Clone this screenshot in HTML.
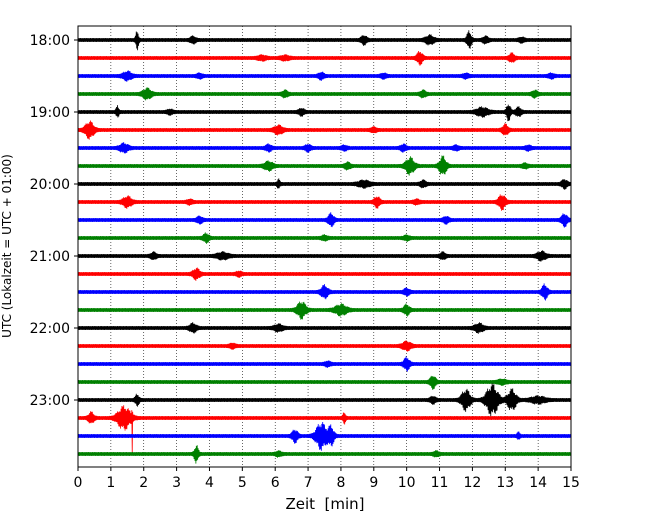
<!DOCTYPE html>
<html><head><meta charset="utf-8"><style>
body{margin:0;background:#fff}
svg text{font-family:"DejaVu Sans","Liberation Sans",sans-serif;fill:#000}
</style></head><body>
<svg id="chart" width="650" height="520" viewBox="0 0 650 520" xmlns="http://www.w3.org/2000/svg">
<g id="grid"></g>
<g id="traces"></g>
<rect x="78" y="26" width="493" height="441" fill="none" stroke="#000" stroke-width="1"/>
<g id="xt"></g>
<g id="yt"></g>
<text x="325" y="509" font-size="15" text-anchor="middle" xml:space="preserve">Zeit  [min]</text>
<text transform="translate(11,246) rotate(-90)" font-size="12" text-anchor="middle">UTC (Lokalzeit = UTC + 01:00)</text>
</svg>
<script>
const xTicks=[0,1,2,3,4,5,6,7,8,9,10,11,12,13,14,15];
const hourLabels=["18:00","19:00","20:00","21:00","22:00","23:00"];
const rowColors=["#000000","#ff0000","#0000ff","#008000"];
const baseAmp=1.9;
// events: [row, minute, amplitude(px), duration(min)]
const events=[
[0,1.8,9,0.05],[0,3.5,3,0.1],[0,8.7,4,0.1],[0,10.7,4,0.15],[0,11.9,8,0.08],[0,12.4,3,0.1],[0,13.5,2,0.1],
[1,10.4,6,0.1],[1,13.2,4,0.1],[1,5.6,2,0.15],[1,6.3,2,0.15],
[2,1.5,4,0.15],[2,3.7,2,0.1],[2,7.4,3,0.1],[2,9.3,2,0.1],[2,11.8,2,0.1],[2,14.4,2,0.1],
[3,2.1,5,0.15],[3,6.3,3,0.1],[3,10.5,3,0.1],[3,13.9,3,0.1],
[4,1.2,5,0.05],[4,2.8,2,0.1],[4,6.8,3,0.1],[4,12.3,4,0.2],[4,13.1,8,0.07],[4,13.4,4,0.1],
[5,0.35,8,0.15],[5,6.1,4,0.15],[5,9.0,2,0.1],[5,13.0,5,0.1],
[6,1.4,4,0.15],[6,5.8,3,0.1],[6,7.0,3,0.1],[6,8.1,2,0.1],[6,9.9,3,0.1],[6,11.5,2,0.1],[6,13.7,2,0.1],
[7,5.8,4,0.15],[7,8.2,3,0.1],[7,10.1,8,0.15],[7,11.1,9,0.12],[7,13.6,2,0.1],
[8,6.1,4,0.05],[8,8.7,3,0.2],[8,10.5,3,0.1],[8,14.8,4,0.1],
[9,1.5,5,0.15],[9,3.4,2,0.1],[9,9.1,5,0.1],[9,10.3,2,0.1],[9,12.9,7,0.12],
[10,3.7,3,0.1],[10,7.7,6,0.1],[10,11.2,3,0.1],[10,14.8,6,0.1],
[11,3.9,4,0.1],[11,7.5,2,0.1],[11,10.0,2,0.1],
[12,2.3,3,0.1],[12,4.4,3,0.2],[12,11.1,3,0.1],[12,14.1,4,0.15],
[13,3.6,5,0.12],[13,4.9,2,0.1],
[14,7.5,6,0.12],[14,10.0,3,0.1],[14,14.2,7,0.1],
[15,6.8,8,0.15],[15,8.0,5,0.2],[15,10.0,5,0.1],
[16,3.5,4,0.12],[16,6.1,3,0.15],[16,12.2,4,0.15],
[17,10.0,4,0.15],[17,4.7,2,0.1],
[18,10.0,6,0.1],[18,7.6,2,0.1],
[19,10.8,6,0.1],[19,12.9,2,0.15],
[20,1.8,5,0.07],[20,10.8,3,0.1],[20,11.8,10,0.15],[20,12.6,15,0.2],[20,13.2,10,0.15],[20,14.0,3,0.25],
[21,0.4,5,0.1],[21,1.4,11,0.22],[21,1.65,34,0.01],[21,8.1,5,0.05],
[22,6.6,6,0.1],[22,7.4,13,0.18],[22,7.7,9,0.1],[22,13.4,3,0.05],
[23,3.6,8,0.07],[23,6.1,2,0.1],[23,10.9,2,0.1]
];
const NS="http://www.w3.org/2000/svg";
const X0=78,X1=571,Y0=26,Y1=467;
const xs=m=>X0+(X1-X0)*m/15;
const rowY=r=>40+18*r;
const grid=document.getElementById('grid');
xTicks.forEach(t=>{
  if(t>0&&t<15){const l=document.createElementNS(NS,'line');
  
  
  l.setAttribute('x1',xs(t));l.setAttribute('x2',xs(t));l.setAttribute('y1',Y0);l.setAttribute('y2',Y1);
  l.setAttribute('stroke','#000');l.setAttribute('stroke-width','0.6');l.setAttribute('stroke-dasharray','1,2');grid.appendChild(l);}
});
const xt=document.getElementById('xt');
xTicks.forEach(t=>{
  const l=document.createElementNS(NS,'line');
  
  
  l.setAttribute('x1',xs(t));l.setAttribute('x2',xs(t));l.setAttribute('y1',Y1);l.setAttribute('y2',Y1+4);l.setAttribute('stroke','#000');xt.appendChild(l);
  const tx=document.createElementNS(NS,'text');
  
  
  tx.setAttribute('x',xs(t));tx.setAttribute('y',Y1+20);tx.setAttribute('font-size','14');tx.setAttribute('text-anchor','middle');tx.textContent=t;xt.appendChild(tx);
});
const yt=document.getElementById('yt');
hourLabels.forEach((h,i)=>{
  const y=rowY(i*4);
  const l=document.createElementNS(NS,'line');
  
  
  l.setAttribute('x1',X0-4);l.setAttribute('x2',X0);l.setAttribute('y1',y);l.setAttribute('y2',y);l.setAttribute('stroke','#000');yt.appendChild(l);
  const tx=document.createElementNS(NS,'text');
  
  
  tx.setAttribute('x',X0-8);tx.setAttribute('y',y+5);tx.setAttribute('font-size','14');tx.setAttribute('text-anchor','end');tx.textContent=h;yt.appendChild(tx);
});
const traces=document.getElementById('traces');
const mod=[1,0.7,0.9,0.55,1,0.8,0.65];
for(let r=0;r<24;r++){
  const evs=events.filter(e=>e[0]===r);
  const y=rowY(r);let d='';
  const N=1100;
  for(let k=0;k<=N;k++){
    const m=15*k/N;let a=baseAmp*(0.75+0.25*mod[(k*3+r)%7]);
    evs.forEach(e=>{const dt=(m-e[1])/e[3];
      if(dt>-4&&dt<4){a+=e[2]*Math.exp(-dt*dt)*mod[k%7];}
    });
    const s=(k%2?1:-1);
    d+=(k?'L':'M')+xs(m).toFixed(2)+','+(y+s*a).toFixed(2);
  }
  const p=document.createElementNS(NS,'path');
  
  
  p.setAttribute('d',d);p.setAttribute('fill','none');p.setAttribute('stroke',rowColors[r%4]);p.setAttribute('stroke-width','0.8');
  traces.appendChild(p);
}
</script>
</body></html>
